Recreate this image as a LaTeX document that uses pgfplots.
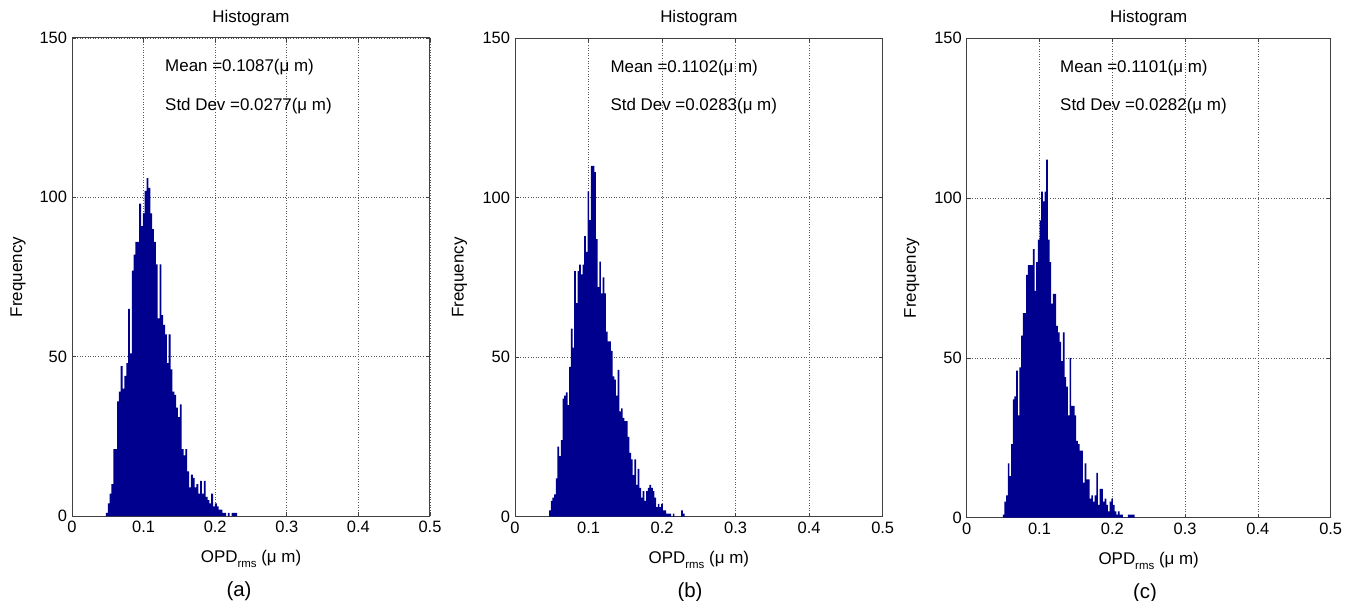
\documentclass[border=0pt]{standalone}
\usepackage{pgfplots}
\pgfplotsset{compat=1.18}
\usepackage{pgfplotstable}
\usepackage{fontspec}
\setmainfont{Liberation Sans}
\definecolor{histblue}{RGB}{0,0,143}

\pgfplotstableread[row sep=\\]{y\\
1\\4\\7\\10\\21\\21\\36\\39\\47\\40\\44\\48\\65\\51\\77\\82\\86\\86\\98\\91\\
95\\102\\106\\103\\95\\90\\86\\79\\62\\79\\63\\60\\57\\48\\57\\46\\39\\38\\34\\31\\
35\\21\\19\\21\\14\\9\\13\\12\\9\\10\\7\\11\\7\\11\\6\\5\\4\\7\\3\\4\\
3\\2\\2\\1\\1\\0\\1\\0\\1\\1\\1\\0\\}\dataA

\pgfplotstableread[row sep=\\]{y\\
2\\5\\6\\7\\12\\22\\19\\24\\37\\38\\39\\35\\47\\59\\53\\77\\67\\77\\79\\76\\
79\\88\\83\\102\\93\\110\\110\\108\\87\\72\\80\\70\\75\\70\\58\\55\\55\\52\\44\\43\\
38\\46\\33\\34\\31\\30\\30\\25\\20\\18\\13\\18\\10\\15\\9\\6\\8\\5\\8\\9\\
10\\9\\8\\6\\3\\4\\3\\4\\2\\2\\1\\1\\1\\0\\1\\0\\0\\0\\0\\2\\1\\0\\}\dataB

\pgfplotstableread[row sep=\\]{y\\
1\\5\\7\\17\\13\\23\\37\\38\\46\\32\\47\\57\\64\\64\\76\\79\\79\\79\\84\\71\\
80\\87\\93\\102\\99\\102\\112\\87\\80\\67\\70\\70\\60\\58\\55\\49\\58\\44\\41\\32\\
50\\35\\35\\32\\24\\23\\21\\21\\11\\17\\12\\12\\6\\7\\5\\7\\14\\4\\9\\9\\
5\\6\\4\\2\\5\\6\\4\\2\\1\\2\\1\\1\\0\\0\\0\\1\\1\\1\\1\\0\\}\dataC

\pgfplotsset{
  hist/.style={
    scale only axis, anchor=south west, clip=false,
    xmin=0, xmax=0.5, ymin=0, ymax=150,
    xtick={0,0.1,0.2,0.3,0.4,0.5},
    xticklabels={0,0.1,0.2,0.3,0.4,0.5},
    ytick={0,50,100,150},
    grid=major,
    major grid style={black!65, line width=0.7bp, dash pattern=on 1bp off 1.6bp},
    tick align=inside, major tick length=4bp,
    axis line style={black!75, line width=1bp},
    tick style={black!75, line width=0.7bp},
    ticklabel style={font=\fontsize{16.5}{19}\selectfont},
    /pgf/number format/assume math mode=true,
    xticklabel style={yshift=-1.5bp},
    yticklabel style={xshift=-1.5bp},
    title={Histogram},
    title style={at={(axis description cs:0.5,1)}, anchor=base, yshift=10bp, font=\fontsize{17}{20}\selectfont},
    ylabel={Frequency},
    ylabel style={at={(axis description cs:-0.151,0.5)}, anchor=center, font=\fontsize{17}{20}\selectfont},
    xlabel={OPD\raisebox{-0.55ex}{\fontsize{11.5}{13}\selectfont rms} (μ m)},
    xlabel style={at={(axis description cs:0.5,-0.0983)}, anchor=base, font=\fontsize{17}{20}\selectfont},
  },
}
\tikzset{
  txtnode/.style={anchor=base west, font=\fontsize{17}{20}\selectfont},
  capnode/.style={anchor=base, font=\fontsize{20.5}{24}\selectfont},
}

\begin{document}
\begin{tikzpicture}
\path[use as bounding box] (0,0) rectangle (1351bp,601bp);

\begin{axis}[hist, at={(72bp,85bp)}, width=358bp, height=478bp]
\addplot[ybar interval, fill=histblue, draw=none] table[x expr=0.0474+\coordindex*0.00258, y=y]{\dataA};
\node[txtnode] at (axis cs:0.1253,139.4) {Mean =0.1087(μ m)};
\node[txtnode] at (axis cs:0.1253,127.4) {Std Dev =0.0277(μ m)};
\node[capnode] at (axis description cs:0.4665,-0.168) {(a)};
\end{axis}

\begin{axis}[hist, at={(515bp,84.3bp)}, width=367.7bp, height=478.4bp]
\addplot[ybar interval, fill=histblue, draw=none] table[x expr=0.0464+\coordindex*0.002273, y=y]{\dataB};
\node[txtnode] at (axis cs:0.1251,139.4) {Mean =0.1102(μ m)};
\node[txtnode] at (axis cs:0.1251,127.4) {Std Dev =0.0283(μ m)};
\node[capnode] at (axis description cs:0.476,-0.168) {(b)};
\end{axis}

\begin{axis}[hist, at={(966.7bp,83.3bp)}, width=364bp, height=479.4bp]
\addplot[ybar interval, fill=histblue, draw=none] table[x expr=0.04956+\coordindex*0.002293, y=y]{\dataC};
\node[txtnode] at (axis cs:0.1236,139.4) {Mean =0.1101(μ m)};
\node[txtnode] at (axis cs:0.1236,127.4) {Std Dev =0.0282(μ m)};
\node[capnode] at (axis description cs:0.49,-0.168) {(c)};
\end{axis}
\end{tikzpicture}
\end{document}
